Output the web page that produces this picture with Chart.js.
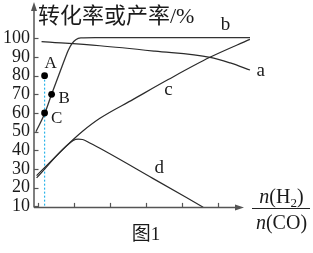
<!DOCTYPE html>
<html><head><meta charset="utf-8">
<script src="https://cdn.jsdelivr.net/npm/chart.js@4/dist/chart.umd.min.js"></script>
<style>html,body{margin:0;padding:0;background:#fff;}#wrap{width:313px;height:253px;position:relative;}</style>
</head><body><div id="wrap"><canvas id="c"></canvas></div>
<script>
// ---- data ----
const ratioA  = [1.11, 2.73, 4.26, 5.79, 6.35, 6.90];
const valuesA = [98.2, 96.0, 93.1, 89.8, 86.8, 83.0];
const ratioB  = [0.953, 1.203, 1.389, 1.711, 1.85, 1.95, 2.06, 2.20, 2.60, 6.90];
const valuesB = [50.0, 60.0, 70.0, 86.6, 93.5, 97.0, 99.2, 100.2, 100.4, 100.4];
const ratioC  = [0.972, 1.989, 2.258, 2.731, 3.656, 4.628, 5.786, 6.897];
const valuesC = [26.5, 45.8, 50.4, 57.2, 67.3, 77.9, 89.8, 99.4];
const ratioD  = [0.972, 1.989, 2.13, 2.25, 2.45, 2.73, 4.20, 5.60];
const valuesD = [25.3, 45.3, 46.0, 45.8, 43.9, 41.1, 25.0, 9.6];
const pointNames  = ['A', 'B', 'C'];
const pointRatio  = [1.194, 1.389, 1.194];
const pointValues = [80, 70, 60];
const guideRatio  = [1.194, 1.194];
const guideValues = [80, 10];
const yTickValues = [10, 20, 30, 40, 50, 60, 70, 80, 90, 100];
const xTickValues = [1, 2, 3, 4, 5, 6];
const curveNames  = ['a', 'b', 'c', 'd'];
const titleText = '转化率或产率/%';
const figText = '图1';

// ---- layout / label anchors (data coords) ----
const curveLabelPos = {a: [7.2, 82.5], b: [6.222, 107.1], c: [4.633, 72.2], d: [4.378, 30.4]};
const pointLabelPos = {A: [1.361, 86.6], B: [1.739, 67.9], C: [1.528, 57.2]};

const zip = (xs, ys) => xs.map((x, i) => ({x, y: ys[i]}));
const SERIF = "'Liberation Serif','Times New Roman',serif";
const lineStyle = {pointRadius: 0, borderWidth: 1.2, borderColor: '#2a2a2a', fill: false,
  cubicInterpolationMode: 'monotone', clip: false};

const overlay = {
  id: 'overlay',
  afterDraw(chart) {
    const ctx = chart.ctx, xs = chart.scales.x, ys = chart.scales.y;
    const ox = chart.chartArea.left, oy = ys.getPixelForValue(10) + 1;
    ctx.save();
    ctx.strokeStyle = '#555'; ctx.fillStyle = '#555'; ctx.lineWidth = 1.5;
    // y axis
    ctx.beginPath(); ctx.moveTo(ox, oy); ctx.lineTo(ox, 8); ctx.stroke();
    ctx.beginPath(); ctx.moveTo(ox, 2); ctx.lineTo(ox - 3, 11); ctx.lineTo(ox + 3, 11); ctx.closePath(); ctx.fill();
    // x axis
    const xEnd = 244;
    ctx.beginPath(); ctx.moveTo(ox, oy); ctx.lineTo(xEnd - 5, oy); ctx.stroke();
    ctx.beginPath(); ctx.moveTo(xEnd, oy); ctx.lineTo(xEnd - 9, oy - 3); ctx.lineTo(xEnd - 9, oy + 3); ctx.closePath(); ctx.fill();
    // ticks
    ctx.lineWidth = 1.2;
    yTickValues.forEach(v => { const py = Math.round(ys.getPixelForValue(v)) + 0.5;
      ctx.beginPath(); ctx.moveTo(ox, py); ctx.lineTo(ox + 4.5, py); ctx.stroke(); });
    xTickValues.forEach(v => { const px = Math.round(xs.getPixelForValue(v)) + 0.5;
      ctx.beginPath(); ctx.moveTo(px, oy); ctx.lineTo(px, oy - 4.5); ctx.stroke(); });
    // curve labels
    ctx.fillStyle = '#1a1a1a'; ctx.textAlign = 'center'; ctx.textBaseline = 'middle';
    ctx.font = '19px ' + SERIF;
    curveNames.forEach(n => { const p = curveLabelPos[n];
      ctx.fillText(n, xs.getPixelForValue(p[0]), ys.getPixelForValue(p[1])); });
    ctx.font = '17px ' + SERIF;
    pointNames.forEach(n => { const p = pointLabelPos[n];
      ctx.fillText(n, xs.getPixelForValue(p[0]), ys.getPixelForValue(p[1])); });
    // title
    ctx.textAlign = 'left'; ctx.font = "22px 'Liberation Serif','Noto Sans CJK SC'";
    ctx.fillText(titleText, 38, 17);
    // x axis label as fraction n(H2)/n(CO)
    const cx = 281.5;
    const drawParts = (parts, baseline) => {
      let w = 0;
      parts.forEach(p => { ctx.font = p.f; w += ctx.measureText(p.t).width; });
      let x = cx - w / 2;
      ctx.textAlign = 'left'; ctx.textBaseline = 'alphabetic';
      parts.forEach(p => { ctx.font = p.f; ctx.fillText(p.t, x, baseline + (p.dy || 0)); x += ctx.measureText(p.t).width; });
    };
    const it = 'italic 20px ' + SERIF, rg = '20px ' + SERIF, sb = '13px ' + SERIF;
    drawParts([{t: 'n', f: it}, {t: '(H', f: rg}, {t: '2', f: sb, dy: 4}, {t: ')', f: rg}], 203);
    drawParts([{t: 'n', f: it}, {t: '(CO)', f: rg}], 229);
    ctx.strokeStyle = '#222'; ctx.lineWidth = 1.2;
    ctx.beginPath(); ctx.moveTo(252, 208.5); ctx.lineTo(310, 208.5); ctx.stroke();
    // figure caption
    ctx.textAlign = 'center'; ctx.textBaseline = 'middle';
    ctx.font = "19px 'Liberation Serif','Noto Sans CJK SC'";
    ctx.fillText(figText, 146, 235);
    ctx.restore();
  }
};

new Chart(document.getElementById('c'), {
  type: 'line',
  data: {
    datasets: [
      {type: 'scatter', data: zip(pointRatio, pointValues), pointRadius: 3.4, pointBackgroundColor: '#000',
       pointBorderWidth: 0, showLine: false, clip: false},
      Object.assign({data: zip(ratioA, valuesA)}, lineStyle),
      Object.assign({data: zip(ratioB, valuesB)}, lineStyle, {borderColor: '#333', borderWidth: 1.3}),
      Object.assign({data: zip(ratioC, valuesC)}, lineStyle),
      Object.assign({data: zip(ratioD, valuesD)}, lineStyle),
      {data: zip(guideRatio, guideValues), pointRadius: 0, borderWidth: 1.2, borderColor: '#2ab4ea',
       borderDash: [2, 2], fill: false}
    ]
  },
  options: {
    responsive: true, maintainAspectRatio: false, animation: false,
    layout: {padding: {left: 0, right: 63, top: 19.6, bottom: 46.6}},
    plugins: {legend: {display: false}, tooltip: {enabled: false}, title: {display: false}},
    scales: {
      x: {type: 'linear', min: 0.9, max: 6.9, display: false},
      y: {type: 'linear', min: 10, max: 110,
          afterFit: s => { s.width = 34; },
          grid: {display: false, drawTicks: false}, border: {display: false},
          ticks: {stepSize: 10, padding: 4, autoSkip: false, color: '#1a1a1a', font: {family: SERIF, size: 18},
                  callback: v => (yTickValues.includes(v) ? String(v) : '')}}
    }
  },
  plugins: [overlay]
});
</script></body></html>
